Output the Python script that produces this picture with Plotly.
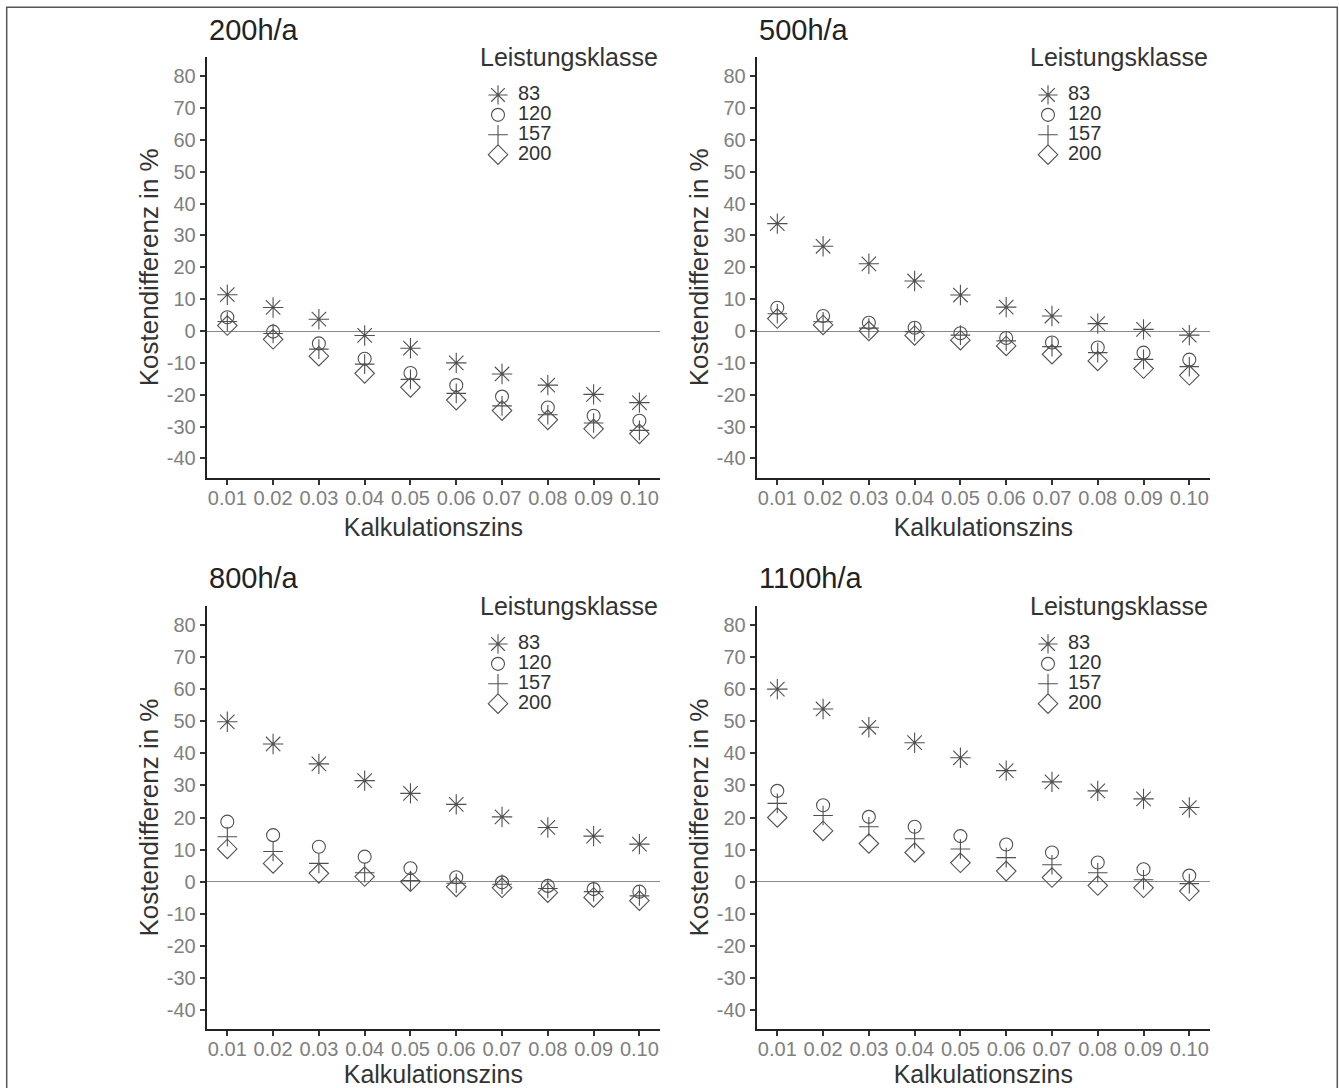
import plotly.graph_objects as go

# ---------------- data ----------------
rates = [0.01, 0.02, 0.03, 0.04, 0.05, 0.06, 0.07, 0.08, 0.09, 0.10]
rate_labels = ["0.01", "0.02", "0.03", "0.04", "0.05", "0.06", "0.07", "0.08", "0.09", "0.10"]
y_tickvals = [-40, -30, -20, -10, 0, 10, 20, 30, 40, 50, 60, 70, 80]
y_ticklabels = ["-40", "-30", "-20", "-10", "0", "10", "20", "30", "40", "50", "60", "70", "80"]
classes = ["83", "120", "157", "200"]
panel_titles = ["200h/a", "500h/a", "800h/a", "1100h/a"]
legend_title = "Leistungsklasse"
x_title = "Kalkulationszins"
y_title = "Kostendifferenz in %"

h200_83 = [11.4, 7.4, 3.7, -1.4, -5.4, -10.0, -13.5, -17.0, -19.9, -22.5]
h200_120 = [4.3, -0.2, -3.9, -8.7, -13.2, -17.0, -20.6, -24.0, -26.6, -28.2]
h200_157 = [3.0, -0.8, -5.7, -10.4, -15.2, -19.6, -23.5, -26.3, -28.9, -31.2]
h200_200 = [1.7, -2.6, -7.9, -13.3, -17.7, -21.7, -25.0, -27.9, -30.7, -32.3]

h500_83 = [33.7, 26.6, 21.1, 15.7, 11.3, 7.5, 4.7, 2.3, 0.5, -1.3]
h500_120 = [7.3, 4.7, 2.6, 1.0, -0.7, -2.2, -3.6, -5.2, -6.8, -9.0]
h500_157 = [5.4, 2.9, 0.9, -0.2, -1.3, -3.1, -4.9, -6.8, -8.9, -11.2]
h500_200 = [3.9, 1.9, 0.0, -1.4, -2.9, -4.7, -7.3, -9.4, -11.8, -13.9]

h800_83 = [49.8, 42.9, 36.7, 31.5, 27.5, 24.1, 20.2, 16.9, 14.2, 11.7]
h800_120 = [18.7, 14.5, 10.9, 7.8, 4.2, 1.4, -0.2, -1.3, -2.3, -3.1]
h800_157 = [14.0, 9.4, 5.7, 2.8, 0.4, -0.5, -0.8, -2.1, -3.1, -4.4]
h800_200 = [10.2, 5.7, 2.6, 1.6, 0.0, -1.6, -1.9, -3.4, -4.9, -5.9]

h1100_83 = [60.0, 53.8, 48.1, 43.3, 38.6, 34.6, 31.1, 28.3, 25.8, 23.1]
h1100_120 = [28.3, 23.8, 20.2, 17.1, 14.2, 11.6, 9.1, 6.0, 3.9, 1.9]
h1100_157 = [24.4, 20.6, 17.1, 13.4, 10.2, 7.5, 5.3, 2.8, 0.6, -0.6]
h1100_200 = [20.0, 15.8, 11.9, 9.1, 5.9, 3.3, 1.3, -1.2, -1.9, -2.9]

panel_values = [
    [h200_83, h200_120, h200_157, h200_200],
    [h500_83, h500_120, h500_157, h500_200],
    [h800_83, h800_120, h800_157, h800_200],
    [h1100_83, h1100_120, h1100_157, h1100_200],
]

# ---------------- styling ----------------
W, H = 1340, 1088
FONT = "Liberation Sans, Arial, sans-serif"
symbols = ["asterisk-open", "circle-open", "cross-thin-open", "diamond-open"]
sizes = [17, 13, 14, 15]
mcol = "#505050"
tick_col = "#808080"
txt_col = "#333333"

# panel pixel boxes (left, right, top, bottom)
boxes = [
    (206.7, 660.0, 57.1, 477.5),
    (756.7, 1209.9, 57.1, 477.5),
    (206.7, 660.0, 605.6, 1029.4),
    (756.7, 1209.9, 605.6, 1029.4),
]
title_y = [30, 30, 578, 578]
legend_title_y = [57, 57, 606, 606]
legend_top = [80, 80, 629, 629]
legend_left = [478, 1028, 478, 1028]
legend_names = ["legend", "legend2", "legend3", "legend4"]

fig = go.Figure()
layout = dict(
    width=W, height=H,
    margin=dict(l=0, r=0, t=0, b=0),
    paper_bgcolor="white", plot_bgcolor="white",
    font=dict(family=FONT, color=txt_col),
    annotations=[], shapes=[],
)

for p in range(4):
    xs = "x" if p == 0 else f"x{p+1}"
    ys = "y" if p == 0 else f"y{p+1}"
    for c in range(4):
        fig.add_trace(go.Scatter(
            x=rates, y=panel_values[p][c], mode="markers",
            name=f'<span style="font-size:20px">{classes[c]}</span>',
            xaxis=xs, yaxis=ys, legend=legend_names[p],
            marker=dict(symbol=symbols[c], size=sizes[c], color=mcol,
                        line=dict(color=mcol, width=1.1)),
            hoverinfo="x+y",
        ))
    l, r, t, b = boxes[p]
    xk = "xaxis" if p == 0 else f"xaxis{p+1}"
    yk = "yaxis" if p == 0 else f"yaxis{p+1}"
    layout[xk] = dict(
        domain=[l / W, r / W], anchor=ys,
        range=[0.0055, 0.1045], tickmode="array",
        tickvals=rates, ticktext=rate_labels,
        ticks="outside", ticklen=5, tickwidth=1.5, tickcolor="#333333",
        ticklabelstandoff=-4,
        showline=True, linecolor="#222222", linewidth=2,
        showgrid=False, zeroline=False,
        tickfont=dict(size=20, color=tick_col, family=FONT),
        title=dict(text=x_title, font=dict(size=25, color=txt_col, family=FONT), standoff=11),
    )
    layout[yk] = dict(
        domain=[1 - b / H, 1 - t / H], anchor=xs,
        range=[-46, 86], tickmode="array", tickvals=y_tickvals, ticktext=y_ticklabels,
        ticks="outside", ticklen=5, tickwidth=1.5, tickcolor="#333333",
        showline=True, linecolor="#222222", linewidth=2,
        showgrid=False,
        zeroline=True, zerolinecolor="#8a8a8a", zerolinewidth=1,
        tickfont=dict(size=20, color=tick_col, family=FONT),
        title=dict(text=y_title, font=dict(size=26, color=txt_col, family=FONT), standoff=1),
    )
    layout[legend_names[p]] = dict(
        x=legend_left[p] / W, y=1 - legend_top[p] / H,
        xanchor="left", yanchor="top",
        bgcolor="rgba(0,0,0,0)", borderwidth=0,
        font=dict(size=13, color=txt_col, family=FONT),
        itemsizing="trace", tracegroupgap=0,
    )
    layout["annotations"].append(dict(
        text=panel_titles[p], xref="paper", yref="paper",
        x=l / W, y=1 - title_y[p] / H, xanchor="left", yanchor="middle",
        showarrow=False, font=dict(size=29, color="#222222", family=FONT),
    ))
    layout["annotations"].append(dict(
        text=legend_title, xref="paper", yref="paper",
        x=r / W, y=1 - legend_title_y[p] / H, xanchor="right", yanchor="middle",
        showarrow=False, font=dict(size=25, color=txt_col, family=FONT),
    ))

# outer frame
layout["shapes"].append(dict(
    type="rect", xref="paper", yref="paper",
    x0=6.7 / W, x1=1337.3 / W, y0=-0.01, y1=1 - 7.3 / H,
    line=dict(color="#555555", width=1.5), fillcolor="rgba(0,0,0,0)", layer="below",
))

fig.update_layout(**layout)
fig.write_html("out.html", config={"displayModeBar": False},
               post_script="document.body.style.margin='0';document.body.style.overflow='hidden';")
